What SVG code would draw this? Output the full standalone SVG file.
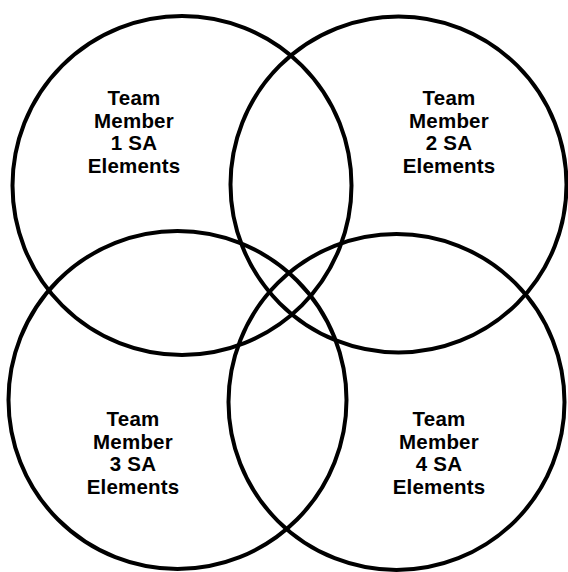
<svg xmlns="http://www.w3.org/2000/svg" width="568" height="572" viewBox="0 0 568 572">
<style>
.c{fill:none;stroke:#000;stroke-width:4}
.t{font-family:"Liberation Sans",Arial,sans-serif;font-weight:bold;font-size:20.5px;fill:#000;text-anchor:middle;letter-spacing:0.2px}
</style>
<rect width="568" height="572" fill="#fff"/>
<g id="member1">
<circle class="c" cx="182" cy="185.5" r="169.5"/>
<text class="t" x="134" y="105">Team</text>
<text class="t" x="134" y="127.5">Member</text>
<text class="t" x="134" y="150">1 SA</text>
<text class="t" x="134" y="172.5">Elements</text>
</g>
<g id="member2">
<circle class="c" cx="398.5" cy="184.5" r="168"/>
<text class="t" x="449" y="105">Team</text>
<text class="t" x="449" y="127.5">Member</text>
<text class="t" x="449" y="150">2 SA</text>
<text class="t" x="449" y="172.5">Elements</text>
</g>
<g id="member3">
<circle class="c" cx="177.5" cy="400" r="169"/>
<text class="t" x="133" y="426">Team</text>
<text class="t" x="133" y="448.5">Member</text>
<text class="t" x="133" y="471">3 SA</text>
<text class="t" x="133" y="493.5">Elements</text>
</g>
<g id="member4">
<circle class="c" cx="396.5" cy="402" r="168"/>
<text class="t" x="439" y="426">Team</text>
<text class="t" x="439" y="448.5">Member</text>
<text class="t" x="439" y="471">4 SA</text>
<text class="t" x="439" y="493.5">Elements</text>
</g>
<g id="connectors"></g>
</svg>
